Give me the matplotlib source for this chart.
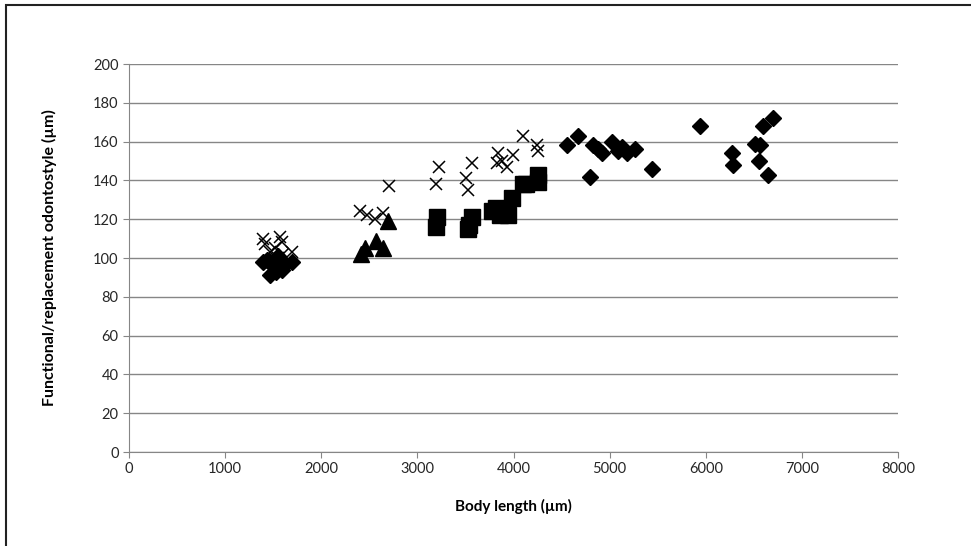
import numpy as np
import matplotlib.pyplot as plt
from matplotlib.patches import Rectangle

# data (body length um, odontostyle um)
diamond_x = [1390, 1440, 1470, 1500, 1530, 1560, 1590, 1620, 1700, 1550,
             4560, 4670, 4800, 4830, 4880, 4920, 5020, 5090, 5130, 5180, 5260, 5440,
             5940, 6270, 6280, 6510, 6560, 6550, 6600, 6700, 6650]
diamond_y = [98, 99, 91, 96, 93, 97, 94, 97, 98, 101,
             158, 163, 142, 158, 156, 154, 160, 155, 157, 154, 156, 146,
             168, 154, 148, 159, 158, 150, 168, 172, 143]

cross_x = [1390, 1420, 1470, 1520, 1550, 1570, 1590, 1600, 1700, 1530,
           2400, 2480, 2560, 2640, 2700,
           3190, 3220, 3510, 3530, 3570, 3830, 3840, 3880, 3930, 3990, 4100, 4240, 4260]
cross_y = [110, 107, 103, 105, 100, 111, 108, 102, 103, 99,
           124, 122, 120, 123, 137,
           138, 147, 141, 135, 149, 149, 154, 150, 147, 153, 163, 158, 155]

triangle_x = [2410, 2460, 2570, 2640, 2690]
triangle_y = [102, 105, 109, 105, 119]

square_x = [3190, 3200, 3530, 3540, 3570, 3780, 3820, 3860, 3940, 3980,
            4100, 4130, 4250, 4260]
square_y = [116, 121, 115, 117, 121, 124, 126, 122, 122, 131,
            138, 138, 143, 139]

plt.rcParams['font.family'] = ['Lato', 'DejaVu Sans']

fig = plt.figure(figsize=(9.71, 5.46), dpi=100)
ax = fig.add_axes([129 / 971, 1 - 452 / 546, (898 - 129) / 971, (452 - 64) / 546])

ax.plot(diamond_x, diamond_y, 'D', color='black', markersize=8.5, linestyle='none', zorder=3)
ax.plot(square_x, square_y, 's', color='black', markersize=11, linestyle='none', zorder=3)
ax.plot(triangle_x, triangle_y, '^', color='black', markersize=11, linestyle='none', zorder=3)
ax.plot(cross_x, cross_y, 'x', color='black', markersize=9, markeredgewidth=1.1,
        linestyle='none', zorder=4)

ax.set_xlim(0, 8000)
ax.set_ylim(0, 200)
ax.set_xticks(np.arange(0, 8001, 1000))
ax.set_yticks(np.arange(0, 201, 20))
ax.grid(axis='y', color='#868686', linewidth=1)
ax.set_axisbelow(True)

for side in ['top', 'right']:
    ax.spines[side].set_visible(False)
ax.spines['left'].set_color('#868686')
ax.spines['bottom'].set_color('#868686')
ax.tick_params(colors='#868686', labelcolor='#262626', labelsize=10.5, length=4)

ax.set_xlabel('Body length (µm)', fontsize=11, fontweight='bold', labelpad=16)
ax.set_ylabel('Functional/replacement odontostyle (µm)', fontsize=11.5, fontweight='bold',
              labelpad=26)

# outer chart border, cut off at right and bottom like in the source image
fig.patches.append(Rectangle((6 / 971, -0.1), 1.2, 1.1 - 5 / 546, transform=fig.transFigure,
                             fill=False, edgecolor='#222222', linewidth=1.5))

fig.savefig('out.png', dpi=100)
